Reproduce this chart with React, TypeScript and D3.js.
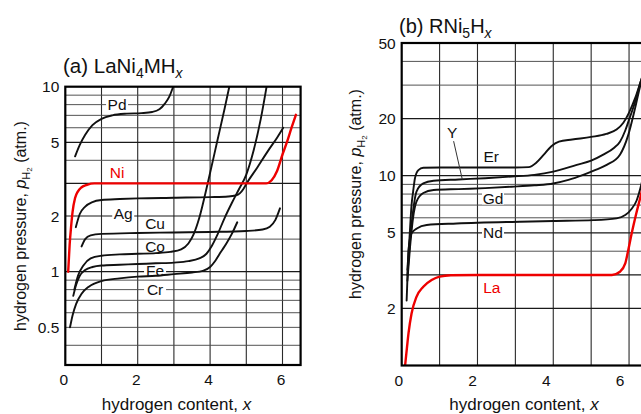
import React from 'react';
import * as d3 from 'd3';

type Pt = [number, number];

// ---------- Panel (a): LaNi4MHx, pressure (atm) vs hydrogen content x ----------
const pdA: Pt[] = [[0.27,4.2],[0.4,4.85],[0.55,5.5],[0.75,6.2],[1.0,6.7],[1.3,7.0],[1.7,7.15],[2.1,7.2],[2.4,7.3],[2.6,7.55],[2.75,8.1],[2.88,8.9],[2.98,10]];
const niA: Pt[] = [[0.08,1.0],[0.12,1.4],[0.16,1.75],[0.2,2.1],[0.27,2.5],[0.35,2.72],[0.45,2.86],[0.6,2.95],[0.8,3.0],[2,3.0],[4,3.0],[5.55,3.0],[5.7,3.12],[5.85,3.5],[6.0,4.3],[6.12,5.0],[6.25,6.0],[6.37,7.05]];
const agA: Pt[] = [[0.29,1.74],[0.4,2.05],[0.55,2.25],[0.75,2.38],[1.0,2.44],[1.5,2.47],[2.0,2.49],[3.0,2.51],[4.0,2.53],[4.5,2.55],[4.7,2.58],[4.82,2.65],[4.92,2.8],[5.0,2.98],[5.3,3.65],[5.6,4.5],[5.85,5.3],[6.02,6.0]];
const cuA: Pt[] = [[0.45,1.37],[0.55,1.5],[0.7,1.57],[1.0,1.6],[2.0,1.62],[3.0,1.63],[4.0,1.64],[5.0,1.66],[5.45,1.69],[5.65,1.75],[5.8,1.9],[5.93,2.2]];
const coA: Pt[] = [[0.25,0.8],[0.35,0.95],[0.5,1.08],[0.7,1.18],[1.0,1.22],[1.5,1.24],[2.0,1.25],[2.5,1.26],[2.9,1.28],[3.2,1.32],[3.4,1.42],[3.55,1.6],[3.7,1.95],[3.95,3.1],[4.2,5.1],[4.4,7.6],[4.53,10]];
const feA: Pt[] = [[0.22,0.74],[0.3,0.85],[0.4,0.95],[0.55,1.02],[0.75,1.06],[1.0,1.08],[1.5,1.09],[2.0,1.1],[2.5,1.11],[3.0,1.12],[3.4,1.14],[3.7,1.18],[3.9,1.25],[4.05,1.38],[4.2,1.58],[4.4,1.95],[4.6,2.35],[4.8,2.8],[5.0,3.35],[5.2,4.5],[5.4,6.7],[5.56,10]];
const crA: Pt[] = [[0.13,0.5],[0.2,0.58],[0.3,0.67],[0.45,0.76],[0.65,0.83],[1.0,0.89],[1.5,0.92],[2.0,0.94],[2.5,0.95],[3.0,0.97],[3.5,0.99],[3.8,1.01],[4.0,1.06],[4.15,1.15],[4.3,1.28],[4.45,1.42],[4.6,1.6],[4.75,1.85]];

// ---------- Panel (b): RNi5Hx ----------
const erB: Pt[] = [[0.15,3.2],[0.2,4.5],[0.26,7.0],[0.3,8.2],[0.35,9.7],[0.44,10.7],[0.57,11.0],[1,11.05],[2,11.05],[3,11.05],[3.35,11.1],[3.55,11.7],[3.75,12.9],[3.95,14.3],[4.15,15.1],[4.5,15.5],[5.0,16.0],[5.4,16.6],[5.67,17.5],[5.85,19],[6.0,21.5],[6.16,25.6],[6.3,31],[6.45,38]];
const yB: Pt[] = [[0.15,3.0],[0.22,4.5],[0.3,6.5],[0.39,8.25],[0.57,9.1],[0.84,9.4],[1.5,9.55],[2.2,9.7],[2.9,9.9],[3.5,10.1],[4.0,10.5],[4.62,11.4],[5.0,12.0],[5.32,12.9],[5.6,14.0],[5.76,15.1],[5.9,17.3],[5.98,19.2],[6.16,24.5],[6.3,31],[6.45,38]];
const gdB: Pt[] = [[0.15,2.8],[0.22,4.2],[0.3,6.0],[0.39,7.3],[0.57,8.1],[0.84,8.4],[1.5,8.5],[2.2,8.6],[2.9,8.75],[3.5,8.9],[4.0,9.1],[4.4,9.5],[4.79,10.1],[5.1,10.7],[5.41,11.4],[5.76,12.9],[5.98,16.4],[6.16,22.7],[6.3,30],[6.45,37]];
const ndB: Pt[] = [[0.13,2.2],[0.16,3.2],[0.18,4.06],[0.26,4.97],[0.4,5.27],[0.66,5.5],[1.45,5.6],[3.12,5.72],[4.0,5.77],[5.06,5.83],[5.67,5.96],[5.9,6.2],[6.07,6.7],[6.2,7.4],[6.3,8.6],[6.4,10.5]];
const laB: Pt[] = [[0.09,1.0],[0.14,1.25],[0.18,1.48],[0.26,1.88],[0.39,2.3],[0.57,2.6],[0.79,2.82],[1.0,2.94],[1.3,2.99],[2,3.0],[4,3.0],[5.55,3.0],[5.76,3.12],[5.9,3.45],[5.98,4.06],[6.07,4.97],[6.19,6.32],[6.32,8.0],[6.45,10.5]];

// ---------- axes ----------
const xTicks = [0, 2, 4, 6];
const xGrid = [1, 2, 3, 4, 5, 6];
const yTicksA = [0.5, 1, 2, 5, 10];
const yGridA = [0.4, 0.5, 0.6, 0.7, 0.8, 0.9, 1, 1.5, 2, 3, 4, 5, 6, 7, 8, 9];
const yMajorA = [1, 2, 3, 5];
const yTicksB = [2, 5, 10, 20, 50];
const yGridB = [2, 3, 4, 5, 6, 7, 8, 9, 10, 20, 30, 40];
const yMajorB = [2, 3, 5, 10, 20];

interface Series { name: string; pts: Pt[]; red?: boolean }
interface Label { text: string; x: number; p: number; red?: boolean }

const seriesA: Series[] = [
  { name: 'Pd', pts: pdA }, { name: 'Ag', pts: agA }, { name: 'Cu', pts: cuA },
  { name: 'Co', pts: coA }, { name: 'Fe', pts: feA }, { name: 'Cr', pts: crA },
  { name: 'Ni', pts: niA, red: true },
];
const seriesB: Series[] = [
  { name: 'Er', pts: erB }, { name: 'Y', pts: yB }, { name: 'Gd', pts: gdB },
  { name: 'Nd', pts: ndB }, { name: 'La', pts: laB, red: true },
];
const labelsA: Label[] = [
  { text: 'Pd', x: 1.43, p: 8.05 }, { text: 'Ni', x: 1.43, p: 3.45, red: true },
  { text: 'Ag', x: 1.6, p: 2.07 }, { text: 'Cu', x: 2.48, p: 1.82 },
  { text: 'Co', x: 2.48, p: 1.37 }, { text: 'Fe', x: 2.48, p: 1.015 },
  { text: 'Cr', x: 2.48, p: 0.8 },
];
const labelsB: Label[] = [
  { text: 'Y', x: 1.33, p: 16.8 }, { text: 'Er', x: 2.36, p: 12.7 },
  { text: 'Gd', x: 2.41, p: 7.63 }, { text: 'Nd', x: 2.41, p: 5.05 },
  { text: 'La', x: 2.38, p: 2.59, red: true },
];
const yPointer: Pt[] = [[1.37, 15.2], [1.6, 9.55]];

const FONT = "'Liberation Sans', Arial, Helvetica, sans-serif";
const RED = '#ee0000';

function Panel(props: {
  id: string;
  x: d3.ScaleLinear<number, number>;
  y: d3.ScaleLogarithmic<number, number>;
  yGrid: number[]; yMajor: number[]; yTicks: number[];
  series: Series[]; labels: Label[];
  tickDx: (v: number) => number;
  pointer?: Pt[];
}) {
  const { id, x, y, yGrid, yMajor, yTicks, series, labels, tickDx, pointer } = props;
  const [x0, x1] = x.range();
  const [yb, yt] = y.range();
  const line = d3.line<Pt>().x(d => x(d[0])).y(d => y(d[1])).curve(d3.curveMonotoneX);
  return (
    <g>
      <defs>
        <clipPath id={id}><rect x={x0} y={yt} width={x1 - x0} height={yb - yt} /></clipPath>
      </defs>
      <rect x={x0} y={yt} width={x1 - x0} height={yb - yt} fill="#fff" />
      {xGrid.map(v => (
        <line key={'vx' + v} x1={x(v)} x2={x(v)} y1={yt} y2={yb} stroke="#2a2a2a" strokeWidth={1.1} />
      ))}
      {yGrid.map(v => {
        const major = yMajor.includes(v);
        return (
          <line key={'hy' + v} x1={x0} x2={x1} y1={y(v)} y2={y(v)}
            stroke={major ? '#1a1a1a' : '#4a4a4a'} strokeWidth={major ? 1.2 : 0.95} />
        );
      })}
      {labels.map(l => {
        const w = l.text.length * 9.5 + 3;
        return (
          <rect key={'bg' + l.text} x={x(l.x) - w / 2} y={y(l.p) - 6.5} width={w} height={13} fill="#fff" />
        );
      })}
      <g clipPath={`url(#${id})`}>
        {series.map(s => (
          <path key={s.name} d={line(s.pts) || ''} fill="none"
            stroke={s.red ? RED : '#111'} strokeWidth={s.red ? 2.4 : 1.9}
            strokeLinejoin="round" strokeLinecap="round" />
        ))}
        {pointer && (
          <line x1={x(pointer[0][0])} y1={y(pointer[0][1])} x2={x(pointer[1][0])} y2={y(pointer[1][1])}
            stroke="#333" strokeWidth={1} />
        )}
      </g>
      <rect x={x0} y={yt} width={x1 - x0} height={yb - yt} fill="none" stroke="#000" strokeWidth={2.2} />
      {labels.map(l => (
        <text key={'lb' + l.text} x={x(l.x)} y={y(l.p)} dy="0.36em" textAnchor="middle"
          fontSize={15.5} fontFamily={FONT} fill={l.red ? RED : '#111'}>{l.text}</text>
      ))}
      {xTicks.map(v => (
        <text key={'xt' + v} x={x(v) + tickDx(v)} y={yb + 20} textAnchor="middle"
          fontSize={15.5} fontFamily={FONT} fill="#111">{v}</text>
      ))}
      {yTicks.map(v => (
        <text key={'yt' + v} x={x0 - 6} y={y(v)} dy="0.36em" textAnchor="end"
          fontSize={15.5} fontFamily={FONT} fill="#111">{String(v)}</text>
      ))}
    </g>
  );
}

function YTitle({ cx, cy }: { cx: number; cy: number }) {
  return (
    <text transform={`translate(${cx},${cy}) rotate(-90)`} textAnchor="middle"
      fontSize={16} fontFamily={FONT} fill="#111" dy="0.35em">
      hydrogen pressure, <tspan fontStyle="italic">p</tspan>
      <tspan fontSize={11} dy={4}>H</tspan>
      <tspan fontSize={8} dy={2.5}>2</tspan>
      <tspan dy={-6.5}> (atm.)</tspan>
    </text>
  );
}

export default function App() {
  const xA = d3.scaleLinear().domain([0, 6.5]).range([65.3, 300.6]);
  const yA = d3.scaleLog().domain([0.313, 10]).range([365, 86.7]);
  const xB = d3.scaleLinear().domain([0, 6.5]).range([401.7, 648]);
  const yBs = d3.scaleLog().domain([1, 50]).range([365.5, 43]);

  return (
    <svg width={641} height={414} viewBox="0 0 641 414"
      style={{ position: 'absolute', left: 0, top: 0, background: '#fff', overflow: 'hidden' }}>
      <rect x={0} y={0} width={641} height={414} fill="#fff" />
      <text x={63} y={73} fontSize={20.5} fontFamily={FONT} fill="#111">
        (a) LaNi<tspan fontSize={14} dy={5}>4</tspan>
        <tspan dy={-5}>MH</tspan>
        <tspan fontSize={14} dy={5} fontStyle="italic">x</tspan>
      </text>
      <text x={399} y={33} fontSize={20} fontFamily={FONT} fill="#111">
        (b) RNi<tspan fontSize={14} dy={5}>5</tspan>
        <tspan dy={-5}>H</tspan>
        <tspan fontSize={14} dy={5} fontStyle="italic">x</tspan>
      </text>

      <Panel id="clipA" x={xA} y={yA} yGrid={yGridA} yMajor={yMajorA} yTicks={yTicksA}
        series={seriesA} labels={labelsA} tickDx={v => -1.5} />
      <Panel id="clipB" x={xB} y={yBs} yGrid={yGridB} yMajor={yMajorB} yTicks={yTicksB}
        series={seriesB} labels={labelsB} tickDx={v => -3 - v} pointer={yPointer} />

      <YTitle cx={20} cy={226} />
      <YTitle cx={355} cy={194} />

      <text x={176.5} y={410} textAnchor="middle" fontSize={17} fontFamily={FONT} fill="#111">
        hydrogen content, <tspan fontStyle="italic">x</tspan>
      </text>
      <text x={524} y={410} textAnchor="middle" fontSize={17} fontFamily={FONT} fill="#111">
        hydrogen content, <tspan fontStyle="italic">x</tspan>
      </text>
    </svg>
  );
}
